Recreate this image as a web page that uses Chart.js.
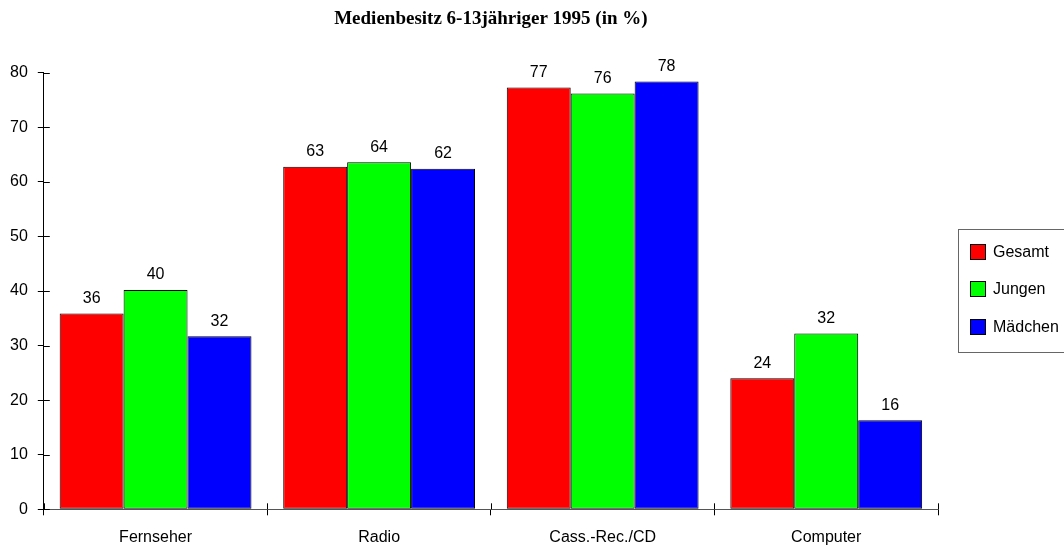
<!DOCTYPE html>
<html>
<head>
<meta charset="utf-8">
<script src="https://cdn.jsdelivr.net/npm/chart.js@4"></script>
<style>
  html, body { margin: 0; padding: 0; background: #fff; overflow: hidden; }
  #wrap { width: 1064px; height: 549px; position: relative; }
</style>
</head>
<body>
<div id="wrap"><canvas id="grafico"></canvas></div>
<script>
// Datos del gráfico
const categorias = ['Fernseher', 'Radio', 'Cass.-Rec./CD', 'Computer'];
const serieNombres = ['Gesamt', 'Jungen', 'Mädchen'];
const serieColores = ['#ff0000', '#00ff00', '#0000ff'];
const gesamt = [35.9, 62.8, 77.3, 24.0];
const jungen = [40.2, 63.6, 76.2, 32.2];
const maedchen = [31.7, 62.4, 78.4, 16.3];
const ticksY = [0, 10, 20, 30, 40, 50, 60, 70, 80];
const titulo = 'Medienbesitz 6-13jähriger 1995 (in %)';

const series = [gesamt, jungen, maedchen];
const fuente = '"Liberation Sans", Arial, sans-serif';

// Valores encima de las barras
const etiquetasPlugin = {
  id: 'etiquetas',
  afterDatasetsDraw(chart) {
    const ctx = chart.ctx;
    ctx.save();
    ctx.font = '16px ' + fuente;
    ctx.fillStyle = '#000';
    ctx.textAlign = 'center';
    ctx.textBaseline = 'middle';
    chart.data.datasets.forEach((ds, i) => {
      chart.getDatasetMeta(i).data.forEach((bar, j) => {
        ctx.fillText(String(Math.round(ds.data[j])), bar.x, bar.y - 15);
      });
    });
    ctx.restore();
  }
};

// Parte interior de las marcas de los ejes (cruzan el eje)
const marcasPlugin = {
  id: 'marcas',
  afterDraw(chart) {
    const ctx = chart.ctx;
    const x = chart.scales.x, y = chart.scales.y;
    ctx.save();
    ctx.strokeStyle = '#000';
    ctx.lineWidth = 1;
    ctx.beginPath();
    y.ticks.forEach((t, i) => {
      const py = Math.round(y.getPixelForTick(i)) + 0.5;
      ctx.moveTo(x.left, py);
      ctx.lineTo(x.left + 6, py);
    });
    for (let i = 0; i <= categorias.length; i++) {
      const px = Math.round(x.getPixelForValue(i - 0.5)) + 0.5;
      ctx.moveTo(px, y.bottom);
      ctx.lineTo(px, y.bottom - 6);
    }
    ctx.stroke();
    ctx.restore();
  }
};

// Leyenda con marco
const leyendaPlugin = {
  id: 'leyenda',
  afterDraw(chart) {
    const ctx = chart.ctx;
    const area = chart.chartArea;
    const cy = (area.top + area.bottom) / 2;
    const left = area.right + 20;
    const top = cy - 62;
    ctx.save();
    ctx.strokeStyle = '#666';
    ctx.lineWidth = 1;
    ctx.strokeRect(Math.round(left) + 0.5, Math.round(top) + 0.5, 130, 123);
    ctx.font = '16px ' + fuente;
    ctx.textBaseline = 'middle';
    ctx.textAlign = 'left';
    chart.data.datasets.forEach((ds, i) => {
      const yc = cy - 39.5 + i * 37.5;
      const bx = Math.round(left) + 12.5;
      const by = Math.round(yc - 8) + 0.5;
      ctx.fillStyle = ds.backgroundColor;
      ctx.fillRect(bx, by, 15, 15);
      ctx.strokeStyle = '#000';
      ctx.strokeRect(bx, by, 15, 15);
      ctx.fillStyle = '#000';
      ctx.fillText(ds.label, left + 35, yc + 1);
    });
    ctx.restore();
  }
};

const ctx = document.getElementById('grafico').getContext('2d');
const grafico = new Chart(ctx, {
  type: 'bar',
  data: {
    labels: categorias,
    datasets: series.map((s, i) => ({
      label: serieNombres[i],
      data: s,
      backgroundColor: serieColores[i],
      borderColor: '#000',
      borderWidth: 1,
      borderSkipped: false,
      categoryPercentage: 0.858,
      barPercentage: 1.0
    }))
  },
  options: {
    responsive: true,
    maintainAspectRatio: false,
    animation: false,
    events: [],
    layout: { padding: { left: 0, right: 126, top: 0, bottom: -11.5 } },
    plugins: {
      legend: { display: false },
      tooltip: { enabled: false },
      title: {
        display: true,
        text: titulo,
        fullSize: false,
        color: '#000',
        font: { family: '"Liberation Serif", "Times New Roman", serif', size: 19, weight: 'bold' },
        padding: { top: 8, bottom: 42 }
      }
    },
    scales: {
      x: {
        grid: { display: true, drawOnChartArea: false, tickLength: 6, color: '#000', offset: true },
        border: { display: true, color: '#555', width: 1 },
        ticks: {
          color: '#000',
          padding: 13,
          font: { family: fuente, size: 16 }
        }
      },
      y: {
        min: 0,
        max: 80,
        afterBuildTicks(axis) { axis.ticks = ticksY.map(v => ({ value: v })); },
        grid: { display: true, drawOnChartArea: false, tickLength: 6, color: '#000' },
        border: { display: true, color: '#000', width: 1 },
        ticks: {
          color: '#000',
          padding: 10,
          font: { family: fuente, size: 16 }
        }
      }
    }
  },
  plugins: [etiquetasPlugin, marcasPlugin, leyendaPlugin]
});
</script>
</body>
</html>
